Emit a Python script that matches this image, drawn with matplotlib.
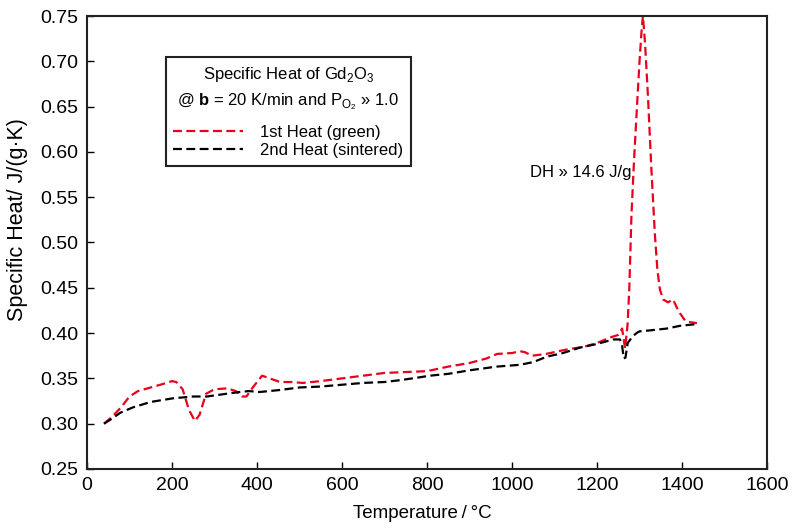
import numpy as np
import matplotlib
matplotlib.use('Agg')
import matplotlib.pyplot as plt

plt.rcParams['font.family'] = ['Liberation Sans', 'DejaVu Sans']
plt.rcParams['mathtext.fontset'] = 'custom'
plt.rcParams['mathtext.rm'] = 'Liberation Sans'
plt.rcParams['mathtext.bf'] = 'Liberation Sans:bold'

# 1st heat (green sample)
temp_red = [40, 60, 80, 100, 120, 150, 180, 200, 210, 225, 240, 254, 265, 280, 300,
            330, 350, 365, 375, 390, 412, 430, 454, 480, 508, 550, 600, 650, 700, 750,
            800, 850, 900, 940, 965, 1000, 1019, 1030, 1047, 1080, 1130, 1170, 1200,
            1230, 1250, 1259, 1266, 1272, 1276, 1281, 1287, 1294, 1300, 1305, 1308,
            1313, 1320, 1328, 1336, 1342, 1348, 1356, 1367, 1379, 1388, 1395, 1407,
            1420, 1435]
cp_red = [0.300, 0.308, 0.318, 0.330, 0.336, 0.340, 0.344, 0.347, 0.346, 0.338, 0.315,
          0.303, 0.310, 0.333, 0.338, 0.339, 0.336, 0.330, 0.330, 0.340, 0.353, 0.350,
          0.346, 0.346, 0.345, 0.347, 0.350, 0.353, 0.356, 0.357, 0.358, 0.363, 0.367,
          0.372, 0.377, 0.378, 0.380, 0.379, 0.375, 0.377, 0.382, 0.385, 0.389, 0.395,
          0.398, 0.405, 0.383, 0.410, 0.450, 0.530, 0.590, 0.650, 0.700, 0.735, 0.750,
          0.720, 0.660, 0.580, 0.510, 0.470, 0.448, 0.437, 0.434, 0.437, 0.428, 0.422,
          0.414, 0.412, 0.411]

# 2nd heat (sintered)
temp_blk = [40, 60, 78, 108, 150, 202, 250, 282, 343, 380, 407, 450, 501, 550, 600,
            650, 700, 736, 780, 807, 850, 901, 964, 1019, 1050, 1082, 1120, 1160, 1200,
            1238, 1254, 1259, 1263, 1267, 1272, 1285, 1296, 1301, 1325, 1364, 1395, 1435]
cp_blk = [0.300, 0.306, 0.312, 0.318, 0.324, 0.328, 0.330, 0.330, 0.334, 0.336, 0.335,
          0.337, 0.340, 0.341, 0.343, 0.345, 0.346, 0.348, 0.351, 0.353, 0.355, 0.359,
          0.363, 0.365, 0.368, 0.374, 0.378, 0.384, 0.388, 0.393, 0.393, 0.386, 0.372,
          0.373, 0.389, 0.397, 0.401, 0.402, 0.403, 0.405, 0.408, 0.410]

fig = plt.figure(figsize=(7.96, 5.25), dpi=100)
ax = fig.add_axes([0.1093, 0.1067, 0.8543, 0.8628])

ax.plot(temp_red, cp_red, color='#e8001c', lw=1.6, dashes=(4, 2), label='1st Heat (green)')
ax.plot(temp_blk, cp_blk, color='black', lw=1.6, dashes=(4, 2), label='2nd Heat (sintered)')

ax.set_xlim(0, 1600)
ax.set_ylim(0.25, 0.75)
ax.set_xticks(np.arange(0, 1601, 200))
ax.set_yticks(np.arange(0.25, 0.751, 0.05))
ax.yaxis.set_major_formatter(matplotlib.ticker.FormatStrFormatter('%.2f'))
ax.tick_params(direction='in', length=5, width=1, labelsize=14, pad=6)
for s in ax.spines.values():
    s.set_linewidth(1.5)
    s.set_color('#222222')

ax.set_xlabel('Temperature\u2009/\u2009°C', fontsize=13.5)
ax.set_ylabel('Specific Heat/ J/(g·K)', fontsize=15.5)
ax.xaxis.set_label_coords(0.493, -0.079)
ax.yaxis.set_label_coords(-0.087, 0.55)

ax.text(1042, 0.577, 'DH » 14.6 J/g', fontsize=12, va='center')

leg = ax.legend(title='Specific Heat of Gd$_2$O$_3$\n'
                      '@ $\\mathbf{b}$ = 20 K/min and P$_{\\mathrm{O_2}}$ » 1.0',
                loc='upper left', bbox_to_anchor=(0.116, 0.909), borderaxespad=0,
                fontsize=12, title_fontsize=12, handlelength=4.2, handletextpad=1.0,
                labelspacing=0.2, fancybox=False, edgecolor='#222222', framealpha=1,
                borderpad=0.45)
leg.get_title().set_multialignment('center')
leg.get_title().set_linespacing(1.55)
leg._legend_box.sep = 9
leg.get_frame().set_linewidth(1.5)

fig.savefig('out.png', dpi=100)
